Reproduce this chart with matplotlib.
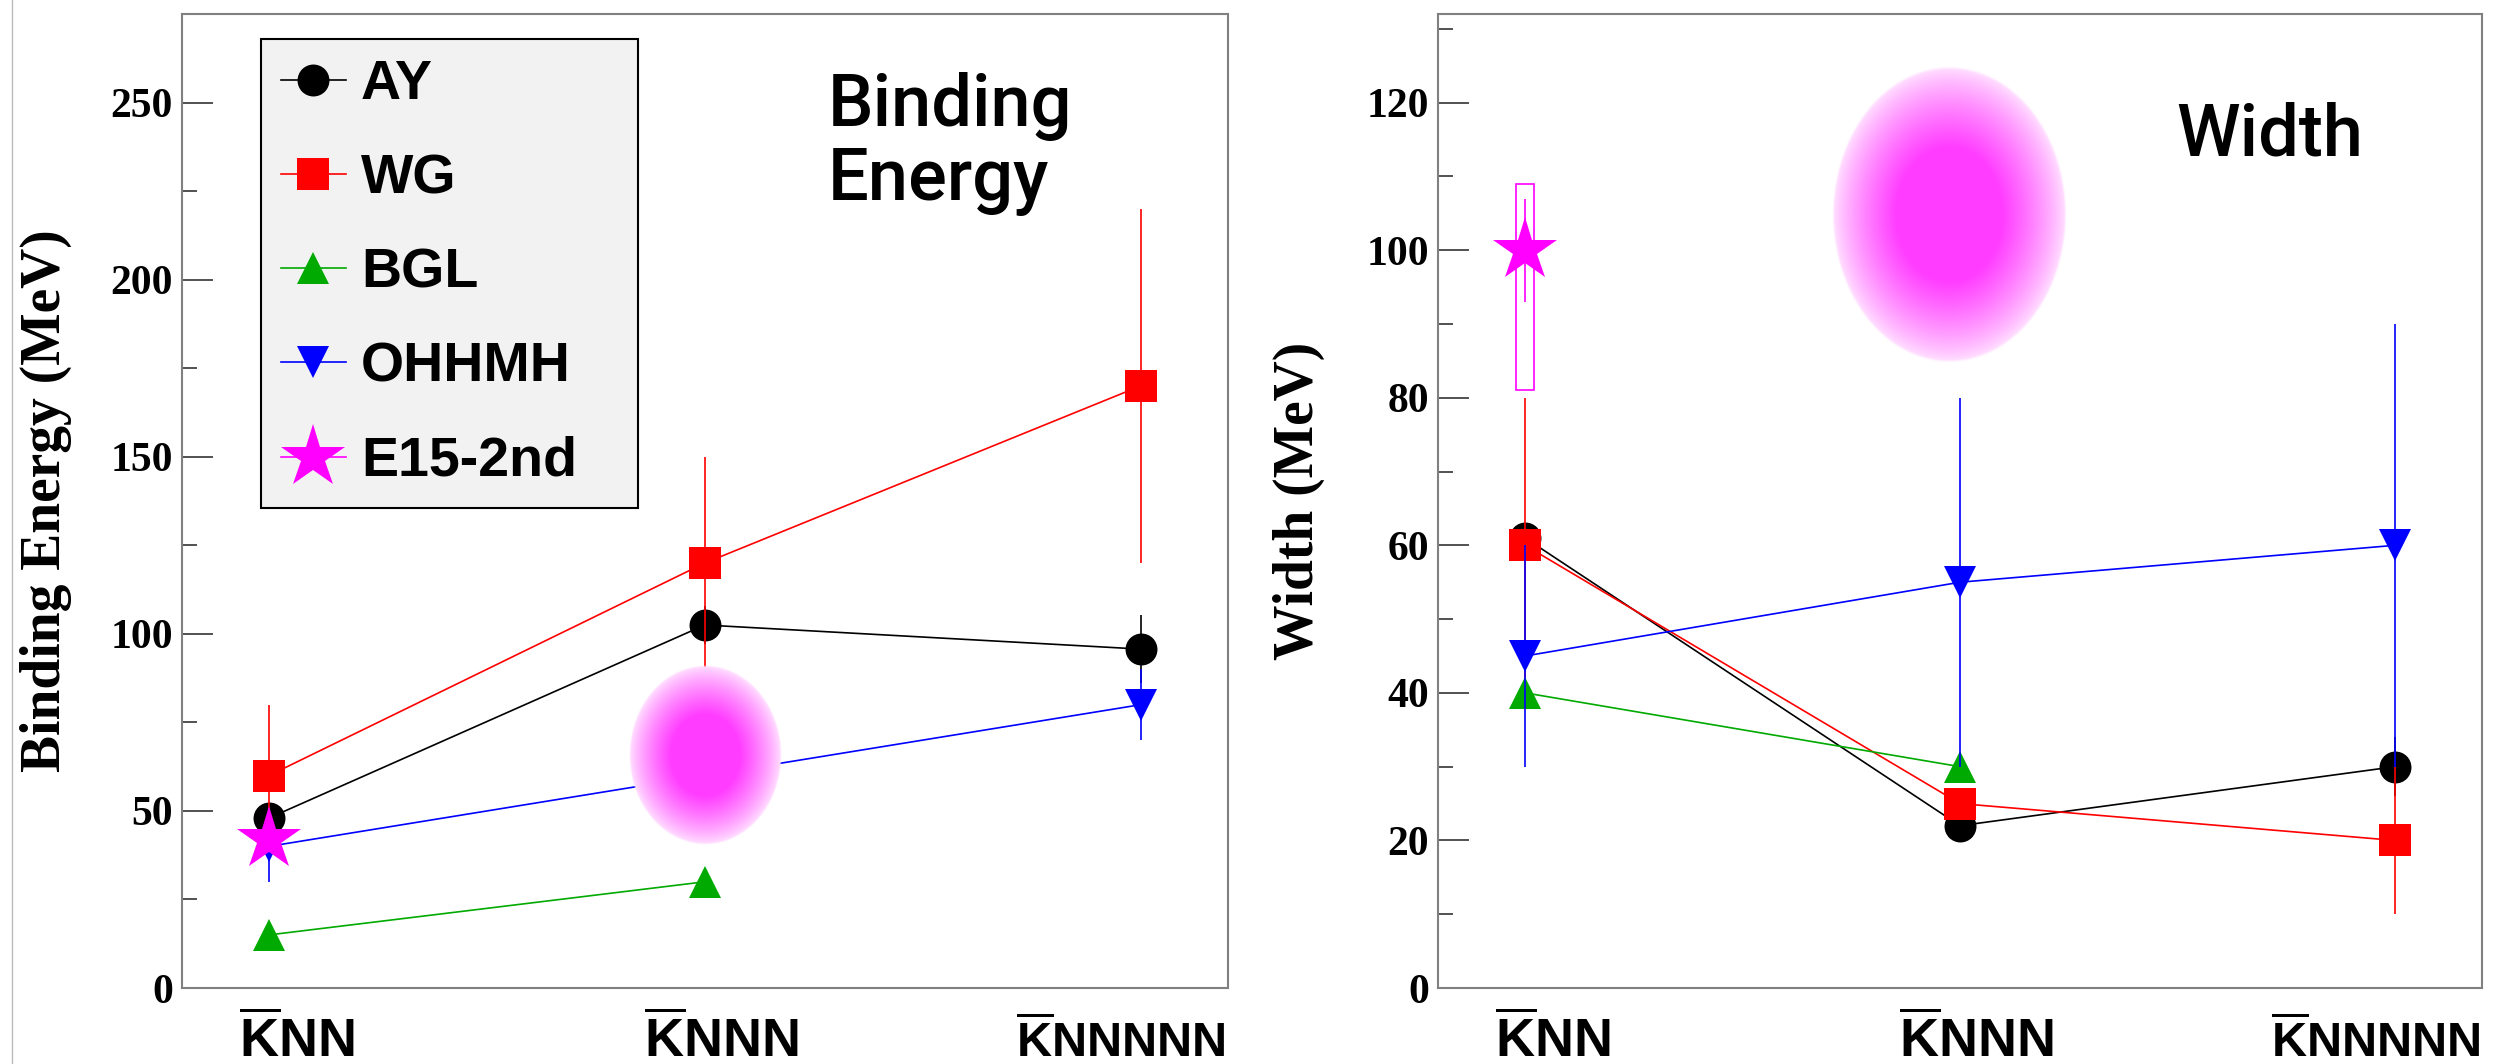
import numpy as np
import matplotlib
matplotlib.use('Agg')
import matplotlib.pyplot as plt
from matplotlib.lines import Line2D
from matplotlib.patches import Rectangle
from matplotlib.ticker import MultipleLocator
import matplotlib.transforms as mtransforms

plt.rcParams['font.family'] = 'Liberation Serif'
plt.rcParams['mathtext.fontset'] = 'custom'
plt.rcParams['mathtext.rm'] = 'Liberation Sans'
plt.rcParams['mathtext.bf'] = 'Liberation Sans:bold'

systems = [r'$\overline{\mathbf{K}}$NN', r'$\overline{\mathbf{K}}$NNN', r'$\overline{\mathbf{K}}$NNNNN']
system_size = [39, 39, 35]
label_left = [-0.07, 0.86, 1.715]
x = np.arange(3)

# binding energies (MeV)
ay_be = [48, 102.5, 95.7]
ay_be_err = [0, 5.5, 9.6]
wg_be = [60, 120, 170]
wg_be_err = [20, 30, 50]
bgl_be = [15, 30]
ohhmh_be = [40, 60, 80]
ohhmh_be_err = [10, 10, 10]
e15_be = 42

# widths (MeV)
ay_w = [61, 22, 30]
ay_w_err = [0, 0, 4]
wg_w = [60, 25, 20]
wg_w_err = [20, 0, 10]
bgl_w = [40, 30]
ohhmh_w = [45, 55, 60]
ohhmh_w_err = [15, 25, 30]
e15_w = 100
e15_w_stat = 7
e15_w_syst = (81, 109)

# blobs: centre x, centre y, width, height
blob_be = (1.0, 65.8, 0.35, 50.8)
blob_w = (0.974, 104.8, 0.538, 40.2)

BLACK, RED, GREEN, BLUE, MAG = 'black', '#ff0000', '#00aa00', '#0000ff', '#ff00ff'
MS = 23
STAR = 48


def draw_blob(ax, cx, cy, w, h):
    n = 400
    u = np.linspace(-1, 1, n)
    uu, vv = np.meshgrid(u, u)
    r = np.hypot(uu, vv)
    f = np.clip((1 - r) / 0.55, 0, 1) ** 0.8
    f = 0.12 + 0.88 * f
    rgba = np.ones((n, n, 4))
    rgba[..., 1] = 1 - f * (1 - 60 / 255)
    rgba[..., 3] = np.clip((1 - r) / 0.02, 0, 1)
    ax.imshow(rgba, extent=(cx - w / 2, cx + w / 2, cy - h / 2, cy + h / 2),
              aspect='auto', zorder=6, interpolation='bilinear')


def draw_panel(ax, ay, ay_err, wg, wg_err, bgl, ohhmh, ohhmh_err):
    kw = dict(lw=1.2, elinewidth=1.2, capsize=4, capthick=1.2, ms=MS, mew=0)
    ax.errorbar(x, ay, yerr=ay_err, fmt='o-', color=BLACK, zorder=3, **kw)
    ax.errorbar(x, wg, yerr=wg_err, fmt='s-', color=RED, zorder=3.1, **kw)
    ax.plot(x[:len(bgl)], bgl, '^-', color=GREEN, lw=1.2, ms=MS, mew=0, zorder=3.2)
    ax.errorbar(x, ohhmh, yerr=ohhmh_err, fmt='v-', color=BLUE, zorder=3.3, **kw)


def style_axes(ax, ymax, major, minor, ylabel, label_x):
    ax.set_xlim(-0.2, 2.2)
    ax.set_ylim(0, ymax)
    ax.set_xticks([])
    ax.yaxis.set_major_locator(MultipleLocator(major))
    ax.yaxis.set_minor_locator(MultipleLocator(minor))
    ax.tick_params(axis='y', which='major', direction='in', length=22, width=1.2,
                   color='#333333', pad=6.5, labelsize=30)
    ax.tick_params(axis='y', which='minor', direction='in', length=11, width=1.2,
                   color='#333333')
    for lbl in ax.get_yticklabels():
        lbl.set_fontweight('bold')
    for s in ax.spines.values():
        s.set_color('#808080')
        s.set_linewidth(1.5)
    ax.set_ylabel(ylabel, fontsize=40, fontweight='bold')
    ax.yaxis.set_label_coords(label_x, 0.5)
    trans = mtransforms.blended_transform_factory(ax.transData, ax.transAxes)
    for pos, lab, fs in zip(label_left, systems, system_size):
        ax.text(pos, -0.0705, lab, transform=trans, ha='left', va='baseline',
                fontsize=fs, family='Liberation Sans', fontweight='bold')


fig = plt.figure(figsize=(24.95, 10.64), dpi=100)
ax1 = fig.add_axes([0.0729, 0.0714, 0.4192, 0.9154])
ax2 = fig.add_axes([0.5764, 0.0714, 0.4184, 0.9154])

# left: binding energy
draw_panel(ax1, ay_be, ay_be_err, wg_be, wg_be_err, bgl_be, ohhmh_be, ohhmh_be_err)
ax1.plot([0], [e15_be], '*', color=MAG, ms=STAR, mew=0, zorder=4)
draw_blob(ax1, *blob_be)
style_axes(ax1, 275, 50, 25, 'Binding Energy (MeV)', -0.105)
ax1.text(0.6176, 0.809, 'Binding\nEnergy', transform=ax1.transAxes, ha='left',
         va='baseline', fontsize=52, family='Roboto', fontweight='medium',
         linespacing=1.1)

handles = [
    Line2D([], [], color=BLACK, marker='o', ms=MS, mew=0, lw=1.2),
    Line2D([], [], color=RED, marker='s', ms=MS, mew=0, lw=1.2),
    Line2D([], [], color=GREEN, marker='^', ms=MS, mew=0, lw=1.2),
    Line2D([], [], color=BLUE, marker='v', ms=MS, mew=0, lw=1.2),
    Line2D([], [], color=MAG, marker='*', ms=STAR, mew=0, lw=1.2),
]
leg = ax1.legend(handles, ['AY', 'WG', 'BGL', 'OHHMH', 'E15-2nd'],
                 loc='upper left', bbox_to_anchor=(0.0755, 0.0, 0.3605, 0.9743),
                 mode='expand', borderaxespad=0, borderpad=0.36, labelspacing=0.76,
                 handlelength=1.17, handletextpad=0.27, fancybox=False,
                 framealpha=1, facecolor='#f2f2f2', edgecolor='black',
                 prop=dict(family='Liberation Sans', weight='bold', size=40))
leg.get_frame().set_linewidth(1.5)
leg.set_zorder(10)

# right: width
draw_panel(ax2, ay_w, ay_w_err, wg_w, wg_w_err, bgl_w, ohhmh_w, ohhmh_w_err)
lo, hi = e15_w_syst
ax2.add_patch(Rectangle((-0.021, lo), 0.042, hi - lo, fill=False, edgecolor=MAG,
                        lw=1.2, zorder=4))
ax2.errorbar([0], [e15_w], yerr=e15_w_stat, fmt='*', color=MAG, ms=STAR, mew=0,
             elinewidth=1.2, capsize=4, capthick=1.2, zorder=4.1)
draw_blob(ax2, *blob_w)
style_axes(ax2, 132, 20, 10, 'Width (MeV)', -0.108)
ax2.text(0.7069, 0.855, 'Width', transform=ax2.transAxes, ha='left', va='baseline',
         fontsize=52, family='Roboto', fontweight='medium')

fig.add_artist(Line2D([12 / 2495] * 2, [0, 1], transform=fig.transFigure,
                      color='#bbbbbb', lw=1))

fig.savefig('out.png', dpi=100)
